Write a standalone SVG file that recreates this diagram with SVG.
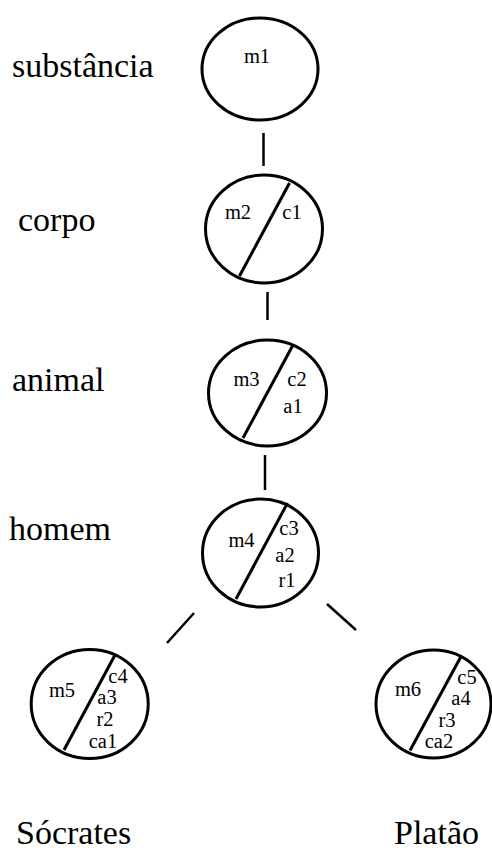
<svg xmlns="http://www.w3.org/2000/svg" width="492" height="850" viewBox="0 0 492 850">
  <style>
    .ring { fill: #fff; stroke: #000; stroke-width: 3; }
    .split { stroke: #000; stroke-width: 3; }
    .edge { stroke: #000; stroke-width: 2.5; fill: none; }
    text { font-family: 'Liberation Serif', 'Times New Roman', 'DejaVu Serif', serif; fill: #000; }
    .in { font-size: 20.5px; text-anchor: middle; }
    .lbl { font-size: 34px; }
  </style>
  <rect width="492" height="850" fill="#fff"/>

  <!-- category labels -->
  <g id="labels">
    <text class="lbl" x="12" y="77">substância</text>
    <text class="lbl" x="18" y="231">corpo</text>
    <text class="lbl" x="12" y="391">animal</text>
    <text class="lbl" x="9" y="540">homem</text>
    <text class="lbl" x="16" y="844">Sócrates</text>
    <text class="lbl" x="394" y="844">Platão</text>
  </g>

  <!-- connectors between the levels -->
  <g id="connectors">
    <line class="edge" x1="263.5" y1="133" x2="263.5" y2="166"/>
    <line class="edge" x1="267.5" y1="292" x2="267.5" y2="320"/>
    <line class="edge" x1="265" y1="455" x2="265" y2="490"/>
    <line class="edge" x1="194" y1="613" x2="167" y2="643"/>
    <line class="edge" x1="327" y1="604" x2="356" y2="630"/>
  </g>

  <g id="n1">
    <ellipse class="ring" cx="260" cy="69" rx="58" ry="51"/>
    <text class="in" x="257" y="63">m1</text>
  </g>

  <g id="n2">
    <ellipse class="ring" cx="264" cy="229" rx="58.5" ry="54"/>
    <line class="split" x1="289.5" y1="183" x2="239.5" y2="276"/>
    <text class="in" x="238" y="219">m2</text>
    <text class="in" x="292" y="219">c1</text>
  </g>

  <g id="n3">
    <ellipse class="ring" cx="267.5" cy="393" rx="59" ry="53"/>
    <line class="split" x1="293" y1="345" x2="243" y2="438"/>
    <text class="in" x="246.5" y="386">m3</text>
    <text class="in" x="297" y="386">c2</text>
    <text class="in" x="293" y="413">a1</text>
  </g>

  <g id="n4">
    <ellipse class="ring" cx="260.5" cy="553" rx="58" ry="54"/>
    <line class="split" x1="287.5" y1="503" x2="236" y2="599"/>
    <text class="in" x="241.5" y="547">m4</text>
    <text class="in" x="289" y="535">c3</text>
    <text class="in" x="285" y="562">a2</text>
    <text class="in" x="287" y="587">r1</text>
  </g>

  <g id="n5">
    <ellipse class="ring" cx="89.7" cy="704" rx="58.5" ry="54.5"/>
    <line class="split" x1="115" y1="655" x2="64" y2="750"/>
    <text class="in" x="62" y="697">m5</text>
    <text class="in" x="118" y="683">c4</text>
    <text class="in" x="107" y="704">a3</text>
    <text class="in" x="105" y="726">r2</text>
    <text class="in" x="103" y="748">ca1</text>
  </g>

  <g id="n6">
    <ellipse class="ring" cx="433.5" cy="704" rx="57.5" ry="54"/>
    <line class="split" x1="461" y1="656.5" x2="410" y2="750.5"/>
    <text class="in" x="408" y="696">m6</text>
    <text class="in" x="467" y="684">c5</text>
    <text class="in" x="461" y="705">a4</text>
    <text class="in" x="447" y="727">r3</text>
    <text class="in" x="439" y="748">ca2</text>
  </g>
</svg>
